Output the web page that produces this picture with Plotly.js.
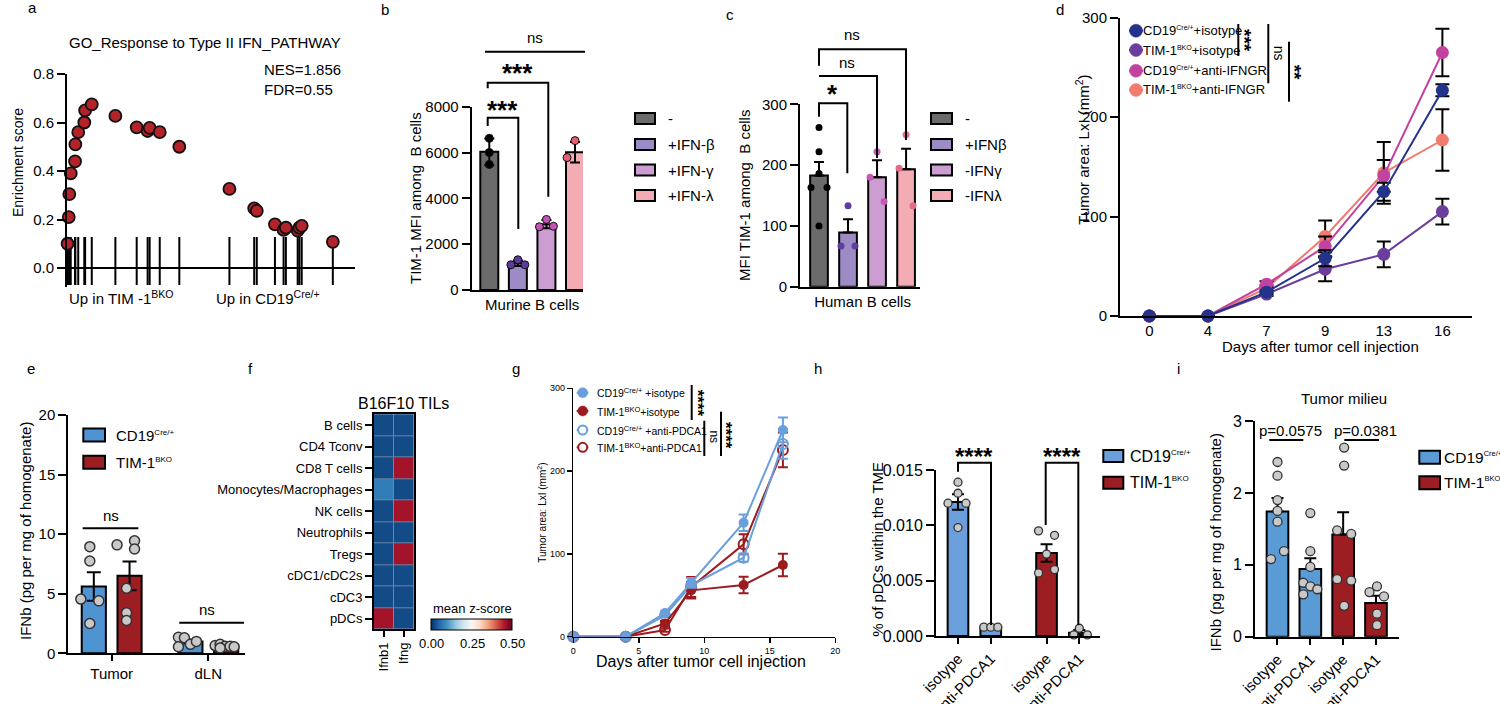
<!DOCTYPE html>
<html>
<head>
<meta charset="utf-8">
<script src="https://cdn.plot.ly/plotly-3.0.1.min.js"></script>
<style>
html,body{margin:0;padding:0;background:#fff;}
#chart{width:1500px;height:704px;}
</style>
</head>
<body>
<div id="chart"></div>
<script>
// ================= DATA =================
// (a) GSEA running enrichment score
const gseaTitle = 'GO_Response to Type II IFN_PATHWAY';
const gseaStats = ['NES=1.856', 'FDR=0.55'];
const gseaRank = [0.2,0.6,0.8,1.3,2.8,2.9,3.9,6.0,6.3,8.6,16.8,24.2,28.0,28.7,32.2,39.0,56.4,65.0,65.9,72.2,75.2,76.0,80.1,80.7,81.5,92.3];
const gseaES   = [0.10,0.21,0.305,0.39,0.44,0.51,0.56,0.60,0.65,0.675,0.627,0.58,0.565,0.578,0.56,0.50,0.326,0.246,0.236,0.18,0.157,0.166,0.154,0.166,0.174,0.108];
const gseaYTicks = [0,0.2,0.4,0.6,0.8];
const gseaSideLabels = ['Up in TIM -1<sup>BKO</sup>', 'Up in CD19<sup>Cre/+</sup>'];

// genotype names (base + superscript)
const genoBase = ['CD19','TIM-1'];
const genoSup = ['Cre/+','BKO'];

// (b) murine B cells
const bCategory = 'Murine B cells';
const bGroups = ['-', '+IFN-β', '+IFN-γ', '+IFN-λ'];
const bMeans = [6030, 1170, 2870, 6010];
const bSD = [580, 120, 180, 450];
const bPoints = [[6620,6000,5480],[1320,1100,1100],[3080,2760,2780],[6520,5780,5760]];
const bYTicks = [0,2000,4000,6000,8000];
const bSig = ['***','***','ns'];

// (c) human B cells
const cCategory = 'Human B cells';
const cGroups = ['-', '+IFNβ', '-IFNγ', '-IFNλ'];
const cMeans = [183, 89, 180, 193];
const cSEM = [22, 22, 28, 34];
const cPoints = [[262,222,186,163,163,100],[133,67,67],[222,180,140],[250,195,133]];
const cYTicks = [0,100,200,300];
const cSig = ['*','ns','ns'];

// (d) tumor growth, anti-IFNGR
const dDays = ['0','4','7','9','13','16'];
const dSeriesGeno = [0,1,0,1];
const dSeriesTreat = ['+isotype','+isotype','+anti-IFNGR','+anti-IFNGR'];
const dCD19Iso = [0,0,24,58,125,227];
const dCD19IsoErr = [0,0,2,8,9,6];
const dTIMIso = [0,0,22,47,62,105];
const dTIMIsoErr = [0,0,2,12,13,13];
const dCD19Ifngr = [0,0,32,70,141,265];
const dCD19IfngrErr = [0,0,3,10,16,24];
const dTIMIfngr = [0,0,28,80,144,177];
const dTIMIfngrErr = [0,0,3,16,31,31];
const dYTicks = [0,100,200,300];
const dSig = ['***','ns','**'];

// (e) IFNb tumor / dLN
const eGroups = ['Tumor','dLN'];
const eCD19Mean = [5.6, 0.98];
const eCD19SEM = [1.2, 0.15];
const eCD19Pts = [[8.95,7.75,4.55,4.4,2.5],[1.35,1.3,0.55,0.75,1.0]];
const eTIMMean = [6.5, 0.6];
const eTIMSEM = [1.2, 0.06];
const eTIMPts = [[9.1,9.45,8.75,5.45,3.4,2.75],[0.65,0.75,0.6,0.6,0.55,0.45]];
const eYTicks = [0,5,10,15,20];
const eSig = ['ns','ns'];

// (f) heatmap
const fTitle = 'B16F10 TILs';
const fCells = ['B cells','CD4 Tconv','CD8 T cells','Monocytes/Macrophages','NK cells','Neutrophils','Tregs','cDC1/cDC2s','cDC3','pDCs'];
const fGenes = ['Ifnb1','Ifng'];
const fZ = [[0.025,0.025],[0.025,0.025],[0.025,0.46],[0.075,0.025],[0.025,0.46],[0.025,0.025],[0.025,0.46],[0.025,0.025],[0.025,0.025],[0.46,0.025]];
const fZRange = [0, 0.5];
const fCbTicks = [0, 0.25, 0.5];
const fCbLabels = ['0.00','0.25','0.50'];
const fCbTitle = 'mean z-score';

// (g) tumor growth, anti-PDCA1
const gDays = [0,4,7,9,13,16];
const gSeriesGeno = [0,1,0,1];
const gSeriesTreat = [' +isotype','+isotype',' +anti-PDCA1','+anti-PDCA1'];
const gCD19Iso = [0,0,28.6,65,137.7,249.7];
const gCD19IsoErr = [0,0,2,6,10,15];
const gTIMIso = [0,0,16,56,62.5,86.6];
const gTIMIsoErr = [0,0,3,10,10,13.5];
const gCD19Pdca = [0,0,25.8,62,95.4,232.8];
const gCD19PdcaErr = [0,0,2,5,5,18];
const gTIMPdca = [0,0,8,60,111.6,225.5];
const gTIMPdcaErr = [0,0,2,12,12,21];
const gXTicks = [0,5,10,15,20];
const gYTicks = [0,100,200,300];
const gSig = ['****','ns','****'];

// (h) pDC depletion
const hLabels = ['isotype','anti-PDCA1','isotype','anti-PDCA1'];
const hMeans = [0.0121, 0.00078, 0.0075, 0.0003];
const hSEM = [0.0007, 0.00004, 0.0008, 0.00024];
const hPts = [[0.0139,0.0129,0.0120,0.0120,0.0098],[0.0008,0.0008,0.0008],[0.0095,0.0091,0.0074,0.0057,0.0060],[0.0007,0.0001,0.0001]];
const hYTicks = [0,0.005,0.010,0.015];
const hYLabels = ['0.000','0.005','0.010','0.015'];
const hSig = ['****','****'];

// (i) IFNb tumor milieu
const iTitle = 'Tumor milieu';
const iLabels = ['isotype','anti-PDCA1','isotype','anti-PDCA1'];
const iMeans = [1.74, 0.94, 1.42, 0.47];
const iSEM = [0.19, 0.15, 0.31, 0.10];
const iPts = [[2.43,2.24,1.90,1.75,1.60,1.08,1.19],[1.72,1.19,0.97,0.75,0.70,0.66,0.59],[2.63,2.38,1.48,1.43,0.80,0.78,0.43],[0.70,0.62,0.56,0.32,0.16]];
const iYTicks = [0,1,2,3];
const iPvals = ['p=0.0575','p=0.0381'];

// ================= LAYOUT / STYLE =================
const W = 1500, H = 704;
const FONT = 'Liberation Sans, Arial, Helvetica, sans-serif';
const X = px => px / W;
const Y = py => 1 - py / H;
const supTxt = (base, s, px) => base + '<sup><span style="font-size:' + px + 'px">' + s + '</span></sup>';

const PANEL = {
  a:{id:'',  L:67,    R:355,    T:74,    B:287.4, xr:[0,100],        yr:[-0.08,0.8]},
  b:{id:'2', L:471.7, R:583,    T:106.7, B:290,   xr:[-0.616,3.28],  yr:[0,8000]},
  c:{id:'3', L:800,   R:920,    T:104.3, B:286.7, xr:[-0.655,3.48],  yr:[0,300]},
  d:{id:'4', L:1120,  R:1471.7, T:17.7,  B:316,   xr:[-0.5,5.5],     yr:[0,300]},
  e:{id:'5', L:68.3,  R:245,    T:415,   B:653.3, xr:[-0.449,1.38],  yr:[0,20]},
  f:{id:'6', L:374,   R:414,    T:414.3, B:629.3},
  g:{id:'7', L:573.3, R:835.3,  T:388.3, B:636.7, xr:[0,20],         yr:[0,300]},
  h:{id:'8', L:936,   R:1100,   T:470,   B:636,   xr:[-0.67,4.33],   yr:[0,0.015]},
  i:{id:'9', L:1255,  R:1399.3, T:421,   B:636.7, xr:[-0.685,3.71],  yr:[0,3]}
};
// colour bar box (pixels)
const CB = {L:431.7, R:512.3, T:619, B:630};
const xa = p => 'x' + PANEL[p].id;
const ya = p => 'y' + PANEL[p].id;
function jitter(p, offs){ const q = PANEL[p]; const k = (q.xr[1]-q.xr[0])/(q.R-q.L); return offs.map(o => o*k); }

const traces = [], shapes = [], annotations = [];
const layout = {
  width:W, height:H, margin:{l:0,r:0,t:0,b:0,pad:0}, showlegend:false,
  paper_bgcolor:'#ffffff', plot_bgcolor:'rgba(0,0,0,0)', barmode:'overlay',
  font:{family:FONT, size:15, color:'#000'}, shapes, annotations
};
function baseAxis(extra){
  return Object.assign({showgrid:false, zeroline:false, showline:true, linecolor:'#000', linewidth:2,
    ticks:'outside', ticklen:8, tickwidth:2, tickcolor:'#000', fixedrange:true,
    tickfont:{family:FONT, size:15, color:'#000'}}, extra);
}
function setAxes(p, xe, ye){
  const q = PANEL[p];
  layout['xaxis'+q.id] = baseAxis(Object.assign({domain:[X(q.L), X(q.R)], anchor:ya(p), range:q.xr}, xe));
  layout['yaxis'+q.id] = baseAxis(Object.assign({domain:[Y(q.B), Y(q.T)], anchor:xa(p), range:q.yr}, ye));
}
function txt(x, y, text, size, extra){
  annotations.push(Object.assign({xref:'paper', yref:'paper', x:X(x), y:Y(y), text:text, showarrow:false,
    xanchor:'center', yanchor:'middle', borderpad:0, font:{family:FONT, size:size||15, color:'#000'}}, extra||{}));
}
function pathPx(pts, w, color){
  const d = pts.map((p,i)=>(i?'L':'M') + X(p[0]).toFixed(5) + ',' + Y(p[1]).toFixed(5)).join(' ');
  shapes.push({type:'path', xref:'paper', yref:'paper', path:d, line:{color:color||'#000', width:w||2}});
}
function rectPx(x0,y0,x1,y1,fill,lw,layer){
  shapes.push({type:'rect', xref:'paper', yref:'paper', x0:X(x0), y0:Y(y1), x1:X(x1), y1:Y(y0),
    fillcolor:fill, line:{color:'#000', width:lw===undefined?2:lw}, layer:layer||'above'});
}
function circlePx(cx,cy,d,fill,stroke,lw){
  shapes.push({type:'circle', xref:'paper', yref:'paper', x0:X(cx-d/2), x1:X(cx+d/2), y0:Y(cy+d/2), y1:Y(cy-d/2),
    fillcolor:fill, line:{color:stroke, width:lw}});
}

// panel letters
[['a',32,8],['b',385,9],['c',730,14],['d',1060,9],['e',31,368],['f',250,368],['g',516,368],['h',818,368],['i',1178,368]]
  .forEach(l => txt(l[1], l[2], l[0], 15));

// ---------- (a) ----------
setAxes('a', {showline:false, showticklabels:false, ticks:''},
  {tickvals:gseaYTicks, tickformat:'.1f', zeroline:true, zerolinecolor:'#000', zerolinewidth:2});
{
  const rx = [], ry = [];
  gseaRank.forEach((r,i) => { rx.push(r, r, null); ry.push(Math.min(gseaES[i], 0.128), -0.07, null); });
  traces.push({type:'scatter', mode:'lines', x:rx, y:ry, xaxis:xa('a'), yaxis:ya('a'), line:{color:'#000', width:2}, hoverinfo:'skip'});
  traces.push({type:'scatter', mode:'markers', x:gseaRank, y:gseaES, xaxis:xa('a'), yaxis:ya('a'), cliponaxis:false,
    marker:{size:12, color:'#b5232a', line:{color:'#111', width:1.8}}, hoverinfo:'skip'});
  txt(205, 43, gseaTitle, 15);
  txt(263, 70, gseaStats[0], 15, {xanchor:'left'});
  txt(263, 89, gseaStats[1], 15, {xanchor:'left'});
  txt(68, 297, gseaSideLabels[0], 15, {xanchor:'left'});
  txt(215, 297, gseaSideLabels[1], 15, {xanchor:'left'});
  txt(18, 163, 'Enrichment score', 14, {textangle:-90});
}

// ---------- (b) ----------
const bBarColors = ['#6b6b6b','#9d8bc6','#cc9dd1','#f3acb3'];
const bDotColors = ['#000000','#5b3c9b','#c652b7','#e85c78'];
setAxes('b', {tickvals:[1.5], ticktext:[bCategory], ticks:''}, {tickvals:bYTicks});
traces.push({type:'bar', x:bGroups.map((_,i)=>i), y:bMeans, width:0.63, xaxis:xa('b'), yaxis:ya('b'),
  marker:{color:bBarColors, line:{color:'#000', width:2}, opacity:1},
  error_y:{type:'data', array:bSD, color:'#000', thickness:2, width:5}, hoverinfo:'skip'});
{
  const jit = [[0,0,0],[0,-7,7],[0,-7,7],[0,-8,8]];
  bPoints.forEach((pts,g) => {
    const j = jitter('b', jit[g]);
    traces.push({type:'scatter', mode:'markers', x:pts.map((_,k)=>g+j[k]), y:pts, xaxis:xa('b'), yaxis:ya('b'), cliponaxis:false,
      marker:{size:8, color:bDotColors[g], line:{color:'#111', width:1}}, hoverinfo:'skip'});
  });
  pathPx([[487.7,126],[487.7,117.7],[518.3,117.7],[518.3,229]]);
  pathPx([[487.7,88.3],[487.7,82.7],[548.3,82.7],[548.3,196.7]]);
  pathPx([[485,51.7],[585,51.7]]);
  txt(502.3, 110, '<b>'+bSig[0]+'</b>', 26);
  txt(517.7, 73, '<b>'+bSig[1]+'</b>', 26);
  txt(535, 38, bSig[2], 15);
  txt(415, 198, 'TIM-1 MFI among\u00a0 B cells', 15, {textangle:-90});
  const rows = [118.5,144.5,170,195.5];
  bGroups.forEach((g,i) => { rectPx(635, rows[i]-5.5, 655, rows[i]+5.5, bBarColors[i]); txt(667, rows[i], g, 15, {xanchor:'left'}); });
}

// ---------- (c) ----------
const cDotColors = ['#000000','#5e3d9e','#c659b8','#e36b87'];
setAxes('c', {tickvals:[1.5], ticktext:[cCategory], ticks:''}, {tickvals:cYTicks});
traces.push({type:'bar', x:cGroups.map((_,i)=>i), y:cMeans, width:0.61, xaxis:xa('c'), yaxis:ya('c'),
  marker:{color:bBarColors, line:{color:'#000', width:2}, opacity:1},
  error_y:{type:'data', symmetric:false, array:cSEM, arrayminus:cSEM.map(()=>0), color:'#000', thickness:2, width:5}, hoverinfo:'skip'});
{
  const jit = [[0,0,0,-8,8,0],[0,-7,7],[0,-7,7],[0,-7,7]];
  cPoints.forEach((pts,g) => {
    const j = jitter('c', jit[g]);
    traces.push({type:'scatter', mode:'markers', x:pts.map((_,k)=>g+j[k]), y:pts, xaxis:xa('c'), yaxis:ya('c'), cliponaxis:false,
      marker:{size:7, color:cDotColors[g]}, hoverinfo:'skip'});
  });
  pathPx([[819,116.7],[819,103.3],[847.3,103.3],[847.3,173.3]]);
  pathPx([[819,76],[877,76],[877,158]]);
  pathPx([[819,65.7],[819,49.3],[906,49.3],[906,140]]);
  txt(832.7, 94, '<b>'+cSig[0]+'</b>', 26);
  txt(846.7, 63, cSig[1], 15);
  txt(852, 35, cSig[2], 15);
  txt(745, 196, 'MFI TIM-1 among\u00a0 B cells', 15, {textangle:-90});
  const rows = [118.5,144.5,170,195.5];
  cGroups.forEach((g,i) => { rectPx(931, rows[i]-5.5, 952, rows[i]+5.5, bBarColors[i]); txt(964, rows[i], g, 15, {xanchor:'left'}); });
}

// ---------- (d) ----------
setAxes('d', {type:'category', categoryarray:dDays, ticks:''}, {tickvals:dYTicks});
{
  const series = [
    {y:dTIMIfngr, e:dTIMIfngrErr, c:'#f07b6e'},
    {y:dCD19Ifngr, e:dCD19IfngrErr, c:'#c2429f'},
    {y:dTIMIso, e:dTIMIsoErr, c:'#6b3d9c'},
    {y:dCD19Iso, e:dCD19IsoErr, c:'#23338b'}
  ];
  series.forEach(s => traces.push({type:'scatter', mode:'lines+markers', x:dDays, y:s.y, xaxis:xa('d'), yaxis:ya('d'), cliponaxis:false,
    line:{color:s.c, width:2}, marker:{size:13, color:s.c},
    error_y:{type:'data', array:s.e, color:'#000', thickness:2, width:7}, hoverinfo:'skip'}));
  const rows = [30.7,50,70.7,90];
  const cols = ['#23338b','#6b3d9c','#c2429f','#f07b6e'];
  dSeriesTreat.forEach((t,i) => {
    pathPx([[1129,rows[i]],[1143,rows[i]]], 2, cols[i]);
    circlePx(1136, rows[i], 13, cols[i], cols[i], 0.5);
    txt(1142, rows[i], supTxt(genoBase[dSeriesGeno[i]], genoSup[dSeriesGeno[i]], 7) + t, 13, {xanchor:'left'});
  });
  pathPx([[1238.3,24],[1238.3,56]]);
  pathPx([[1268.3,24],[1268.3,83.3]]);
  pathPx([[1289,41.7],[1289,101.7]]);
  txt(1244, 40, '<b>'+dSig[0]+'</b>', 19, {textangle:90});
  txt(1279.3, 53, dSig[1], 14, {textangle:90});
  txt(1294, 71.7, '<b>'+dSig[2]+'</b>', 19, {textangle:90});
  txt(1081.7, 150, 'Tumor area: LxI (mm<sup>2</sup>)', 15, {textangle:-90});
  txt(1320, 346.7, 'Days after tumor cell injection', 15);
}

// ---------- (e) ----------
const eColors = ['#4e93d2','#9c1e22'];
setAxes('e', {tickvals:eGroups.map((_,i)=>i), ticktext:eGroups, ticklen:6}, {tickvals:eYTicks});
{
  const off = [-0.185, 0.185];
  const means = [eCD19Mean, eTIMMean], sems = [eCD19SEM, eTIMSEM], pts = [eCD19Pts, eTIMPts];
  const jit = [[[-4,-4,-13,5,-4],[-12,-6,-12,0,6]], [[-12.5,5,5,-3,-3,-3],[-11,-6,-1,4,8,-6]]];
  [0,1].forEach(s => {
    traces.push({type:'bar', x:eGroups.map((_,i)=>i+off[s]), y:means[s], width:0.25, xaxis:xa('e'), yaxis:ya('e'),
      marker:{color:eColors[s], line:{color:'#000', width:2}, opacity:1},
      error_y:{type:'data', array:sems[s], color:'#000', thickness:2, width:7}, hoverinfo:'skip'});
  });
  [0,1].forEach(s => pts[s].forEach((p,g) => {
    const j = jitter('e', jit[s][g]);
    traces.push({type:'scatter', mode:'markers', x:p.map((_,k)=>g+off[s]+j[k]), y:p, xaxis:xa('e'), yaxis:ya('e'), cliponaxis:false,
      marker:{size:10, color:'#c9c9c9', line:{color:'#333', width:1.5}}, hoverinfo:'skip'});
  }));
  pathPx([[82.7,528.3],[138.3,528.3]]);
  pathPx([[179.3,622.7],[244,622.7]]);
  txt(110.7, 515, eSig[0], 15);
  txt(207, 609.3, eSig[1], 15);
  txt(25, 531, 'IFNb (pg per mg of homogenate)', 15, {textangle:-90});
  const rows = [435,462.3];
  genoBase.forEach((g,i) => { rectPx(83.3, rows[i]-6.5, 105, rows[i]+6.5, eColors[i]); txt(115, rows[i], supTxt(g, genoSup[i], 8), 15, {xanchor:'left'}); });
}

// ---------- (f) ----------
{
  const q = PANEL.f;
  layout['xaxis'+q.id] = baseAxis({domain:[X(q.L),X(q.R)], anchor:ya('f'), type:'category', mirror:true, ticklen:6, tickangle:-90, tickfont:{family:FONT,size:13,color:'#000'}});
  layout['yaxis'+q.id] = baseAxis({domain:[Y(q.B),Y(q.T)], anchor:xa('f'), type:'category', autorange:'reversed', mirror:true, ticklen:7, tickfont:{family:FONT,size:13,color:'#000'}});
  rectPx(q.L, q.T, q.R, q.B, '#6d86a8', 0, 'below');
  const RdBu = [[0,'#053061'],[0.1,'#2166ac'],[0.2,'#4393c3'],[0.3,'#92c5de'],[0.4,'#d1e5f0'],[0.5,'#f7f7f7'],[0.6,'#fddbc7'],[0.7,'#f4a582'],[0.8,'#d6604d'],[0.9,'#b2182b'],[1,'#67001f']];
  traces.push({type:'heatmap', x:fGenes, y:fCells, z:fZ, xaxis:xa('f'), yaxis:ya('f'), zmin:fZRange[0], zmax:fZRange[1], colorscale:RdBu, xgap:1, ygap:1, hoverinfo:'skip',
    colorbar:{orientation:'h', x:X((CB.L+CB.R)/2), xanchor:'center', y:Y((CB.T+CB.B)/2), yanchor:'middle',
      len:CB.R-CB.L, lenmode:'pixels', thickness:CB.B-CB.T, thicknessmode:'pixels',
      xpad:0, ypad:0, outlinewidth:1, outlinecolor:'#000', showticklabels:false, ticks:'', title:{text:''}}});
  // colour-bar title and tick labels placed from the colour range
  txt((CB.L+CB.R)/2, CB.T-11, fCbTitle, 13);
  fCbTicks.forEach((v,k) => txt(CB.L + (v-fZRange[0])/(fZRange[1]-fZRange[0])*(CB.R-CB.L), CB.B+13, fCbLabels[k], 13));
  txt(403.3, 403.3, fTitle, 16);
}

// ---------- (g) ----------
setAxes('g', {tickvals:gXTicks, ticklen:5, tickwidth:1.5, linewidth:1.5, tickfont:{family:FONT,size:9,color:'#000'}},
  {tickvals:gYTicks, ticklen:5, tickwidth:1.5, linewidth:1.5, tickfont:{family:FONT,size:9,color:'#000'}});
{
  const blue = '#6a9fdc', red = '#9b1b1f';
  const series = [
    {y:gTIMPdca, e:gTIMPdcaErr, c:red, open:true},
    {y:gCD19Pdca, e:gCD19PdcaErr, c:blue, open:true},
    {y:gTIMIso, e:gTIMIsoErr, c:red, open:false},
    {y:gCD19Iso, e:gCD19IsoErr, c:blue, open:false}
  ];
  series.forEach(s => traces.push({type:'scatter', mode:'lines+markers', x:gDays, y:s.y, xaxis:xa('g'), yaxis:ya('g'), cliponaxis:false,
    line:{color:s.c, width:2},
    marker:{size:10, symbol:s.open?'circle-open':'circle', color:s.c, line:{color:s.c, width:s.open?2:0}},
    error_y:{type:'data', array:s.e, color:s.c, thickness:2, width:5}, hoverinfo:'skip'}));
  const rows = [392.7,411,430,447.3];
  const cols = [blue, red, blue, red];
  gSeriesTreat.forEach((t,i) => {
    pathPx([[576.7,rows[i]],[588.3,rows[i]]], 2, cols[i]);
    if (i < 2) circlePx(582.7, rows[i], 10, cols[i], cols[i], 0.5);
    else circlePx(582.7, rows[i], 9, '#ffffff', cols[i], 2);
    txt(596, rows[i], supTxt(genoBase[gSeriesGeno[i]], genoSup[gSeriesGeno[i]], 7.5) + t, 10.5, {xanchor:'left'});
  });
  pathPx([[691.7,385],[691.7,420]]);
  pathPx([[704.3,420.7],[704.3,456]]);
  pathPx([[721,411.7],[721,456]]);
  txt(697, 402.7, '<b>'+gSig[0]+'</b>', 17, {textangle:90});
  txt(714.3, 436.7, gSig[1], 12, {textangle:90});
  txt(726, 435, '<b>'+gSig[2]+'</b>', 17, {textangle:90});
  txt(541.7, 513, 'Tumor area: LxI (mm<sup>2</sup>)', 10, {textangle:-90});
  txt(701, 661, 'Days after tumor cell injection', 16);
}

// ---------- (h) ----------
const hPos = [0, 1, 2.7, 3.7];
const hColors = ['#6a9fdb','#6a9fdb','#9c1e22','#9c1e22'];
setAxes('h', {tickvals:hPos, ticktext:hLabels, tickangle:-45, ticklen:6, tickfont:{family:FONT,size:15,color:'#000'}},
  {tickvals:hYTicks, ticktext:hYLabels, tickfont:{family:FONT,size:16,color:'#000'}});
traces.push({type:'bar', x:hPos, y:hMeans, width:0.63, xaxis:xa('h'), yaxis:ya('h'),
  marker:{color:hColors, line:{color:'#000', width:2}, opacity:1},
  error_y:{type:'data', array:hSEM, color:'#000', thickness:2, width:6}, hoverinfo:'skip'});
{
  const jit = [[0,0,-10,8,0],[-7,0,7],[-8,8,0,-8,8],[0,-5.5,8]];
  hPts.forEach((p,g) => {
    const j = jitter('h', jit[g]);
    traces.push({type:'scatter', mode:'markers', x:p.map((_,k)=>hPos[g]+j[k]), y:p, xaxis:xa('h'), yaxis:ya('h'), cliponaxis:false,
      marker:{size:8, color:'#c9c9c9', line:{color:'#333', width:1.3}}, hoverinfo:'skip'});
  });
  pathPx([[958,471.7],[958,462.7],[991,462.7],[991,625]]);
  pathPx([[1045.7,525],[1045.7,462.7],[1078.3,462.7],[1078.3,625]]);
  txt(974.3, 456, '<b>'+hSig[0]+'</b>', 24);
  txt(1062.3, 456, '<b>'+hSig[1]+'</b>', 24);
  txt(876.7, 549, '% of pDCs within the TME', 15, {textangle:-90});
  const rows = [456,482.7];
  const lc = ['#6a9fdb','#9c1e22'];
  genoBase.forEach((g,i) => { rectPx(1103.3, rows[i]-6, 1123.3, rows[i]+6, lc[i]); txt(1129, rows[i], supTxt(g, genoSup[i], 8), 16, {xanchor:'left'}); });
}

// ---------- (i) ----------
const iPos = [0,1,2,3];
const iColors = ['#5b9bd5','#5b9bd5','#9c1e22','#9c1e22'];
setAxes('i', {tickvals:iPos, ticktext:iLabels, tickangle:-45, ticklen:6, tickfont:{family:FONT,size:15,color:'#000'}},
  {tickvals:iYTicks, tickfont:{family:FONT,size:16,color:'#000'}});
traces.push({type:'bar', x:iPos, y:iMeans, width:0.66, xaxis:xa('i'), yaxis:ya('i'),
  marker:{color:iColors, line:{color:'#000', width:2}, opacity:1},
  error_y:{type:'data', symmetric:false, array:iSEM, arrayminus:iSEM.map(()=>0), color:'#000', thickness:2, width:6}, hoverinfo:'skip'});
{
  const jit = [[0,0,0,0,0,-6.5,6.5],[0,0,0,-7,0,7,-7],[1,1,-6,8,-6,8,1],[1,-6.5,8,1,1]];
  iPts.forEach((p,g) => {
    const j = jitter('i', jit[g]);
    traces.push({type:'scatter', mode:'markers', x:p.map((_,k)=>iPos[g]+j[k]), y:p, xaxis:xa('i'), yaxis:ya('i'), cliponaxis:false,
      marker:{size:9, color:'#c9c9c9', line:{color:'#333', width:1.3}}, hoverinfo:'skip'});
  });
  pathPx([[1269.3,440],[1303.3,440]]);
  pathPx([[1344.3,440],[1379,440]]);
  txt(1290, 430, iPvals[0], 15);
  txt(1365.7, 430, iPvals[1], 15);
  txt(1344, 398.3, iTitle, 15);
  txt(1215, 542.5, 'IFNb (pg per mg of homogenate)', 15, {textangle:-90});
  const rows = [457.3,482.7];
  const lc = ['#5b9bd5','#9c1e22'];
  genoBase.forEach((g,i) => { rectPx(1419.3, rows[i]-6.5, 1440, rows[i]+6.5, lc[i]); txt(1443, rows[i], supTxt(g, genoSup[i], 7.5), 15.5, {xanchor:'left'}); });
}

Plotly.newPlot('chart', traces, layout, {staticPlot:true, displayModeBar:false});
</script>
</body>
</html>
